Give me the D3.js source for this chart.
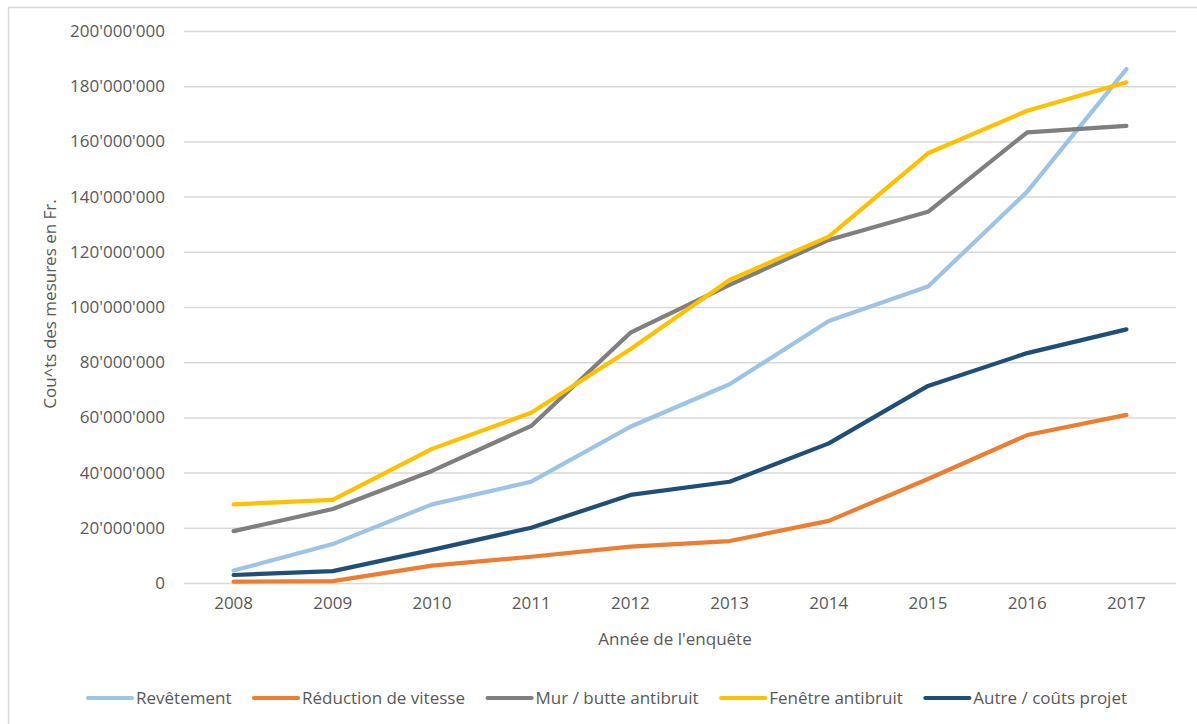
<!DOCTYPE html>
<html>
<head>
<meta charset="utf-8">
<script src="https://cdn.jsdelivr.net/npm/d3@7"></script>
<style>
  html, body { margin: 0; padding: 0; background: #ffffff; }
  svg { display: block; }
  text { font-family: "Open Sans", sans-serif; fill: #595959; }
</style>
</head>
<body>
<svg id="chart" width="1197" height="724"></svg>
<script>
const years = ["2008","2009","2010","2011","2012","2013","2014","2015","2016","2017"];
const seriesNames = ["Revêtement","Réduction de vitesse","Mur / butte antibruit","Fenêtre antibruit","Autre / coûts projet"];
const seriesColors = ["#9DC3E6","#ED7D31","#7F7F7F","#FFC000","#1F4E79"];
const revetement = [4.5e6, 14.1e6, 28.5e6, 36.7e6, 56.6e6, 72.0e6, 94.9e6, 107.4e6, 141.8e6, 186.2e6];
const reduction  = [0.5e6, 0.7e6, 6.3e6, 9.5e6, 13.2e6, 15.2e6, 22.5e6, 37.7e6, 53.6e6, 60.9e6];
const mur        = [18.8e6, 26.8e6, 40.6e6, 56.9e6, 90.7e6, 108.0e6, 124.3e6, 134.5e6, 163.3e6, 165.6e6];
const fenetre    = [28.5e6, 30.1e6, 48.6e6, 61.7e6, 84.7e6, 109.8e6, 125.5e6, 155.7e6, 171.1e6, 181.4e6];
const autre      = [2.9e6, 4.3e6, 12.0e6, 20.0e6, 31.9e6, 36.7e6, 50.6e6, 71.4e6, 83.3e6, 91.9e6];
const yTicks = [0, 20e6, 40e6, 60e6, 80e6, 100e6, 120e6, 140e6, 160e6, 180e6, 200e6];
const yTitle = "Cou^ts des mesures en Fr.";
const xTitle = "Année de l'enquête";

const seriesValues = [revetement, reduction, mur, fenetre, autre];
const FS = 17;

const svg = d3.select("#chart");

// outer chart border
svg.append("rect")
  .attr("x", 8.5).attr("y", 7.5)
  .attr("width", 1300).attr("height", 800)
  .attr("fill", "none").attr("stroke", "#d9d9d9").attr("stroke-width", 1.5);

const plot = { left: 184, right: 1176, top: 31, bottom: 583 };

const x = d3.scaleBand().domain(years).range([plot.left, plot.right]).padding(0);
const y = d3.scaleLinear().domain([0, 200e6]).range([plot.bottom, plot.top]);

const fmt = v => d3.format(",")(v).replace(/,/g, "'");

// gridlines + y labels
const yAxis = d3.axisLeft(y).tickValues(yTicks).tickSize(-(plot.right - plot.left)).tickFormat(fmt).tickPadding(19);
const gY = svg.append("g").attr("transform", `translate(${plot.left},0)`).call(yAxis);
gY.select(".domain").remove();
gY.selectAll(".tick line").attr("stroke", "#d9d9d9").attr("stroke-width", 1.5);
gY.selectAll(".tick text").attr("font-size", FS).attr("fill", "#595959").style("font-family", "'Open Sans', sans-serif");

// x axis labels
const xAxis = d3.axisBottom(x).tickSize(0).tickPadding(14);
const gX = svg.append("g").attr("transform", `translate(0,${plot.bottom})`).call(xAxis);
gX.select(".domain").remove();
gX.selectAll(".tick text").attr("font-size", FS).attr("fill", "#595959").style("font-family", "'Open Sans', sans-serif");

// lines
const line = d3.line()
  .x((d, i) => x(years[i]) + x.bandwidth() / 2)
  .y(d => y(d));

seriesValues.forEach((vals, k) => {
  svg.append("path")
    .datum(vals)
    .attr("d", line)
    .attr("fill", "none")
    .attr("stroke", seriesColors[k])
    .attr("stroke-width", 4.2)
    .attr("stroke-linejoin", "round")
    .attr("stroke-linecap", "round");
});

// axis titles
svg.append("text")
  .attr("transform", `translate(56,${(plot.top + plot.bottom) / 2 - 3}) rotate(-90)`)
  .attr("text-anchor", "middle")
  .attr("font-size", FS)
  .text(yTitle);

svg.append("text")
  .attr("x", 675)
  .attr("y", 645)
  .attr("text-anchor", "middle")
  .attr("font-size", FS)
  .text(xTitle);

// legend
const legend = svg.append("g");
const lineLen = 44, textGap = 4;
const legStart = 88, legEnd = 1127;
const widths = [];
const groups = [];
seriesNames.forEach((name, k) => {
  const g = legend.append("g");
  g.append("line")
    .attr("x1", 0).attr("x2", lineLen)
    .attr("y1", 0).attr("y2", 0)
    .attr("stroke", seriesColors[k]).attr("stroke-width", 4.2).attr("stroke-linecap", "round");
  const t = g.append("text")
    .attr("x", lineLen + textGap).attr("y", 0).attr("dy", "0.35em")
    .attr("font-size", FS).text(name);
  widths.push(lineLen + textGap + t.node().getComputedTextLength());
  groups.push(g);
});
const gap = (legEnd - legStart - d3.sum(widths)) / (seriesNames.length - 1);
let cx = legStart;
groups.forEach((g, i) => {
  g.attr("transform", `translate(${cx},698)`);
  cx += widths[i] + gap;
});
</script>
</body>
</html>
